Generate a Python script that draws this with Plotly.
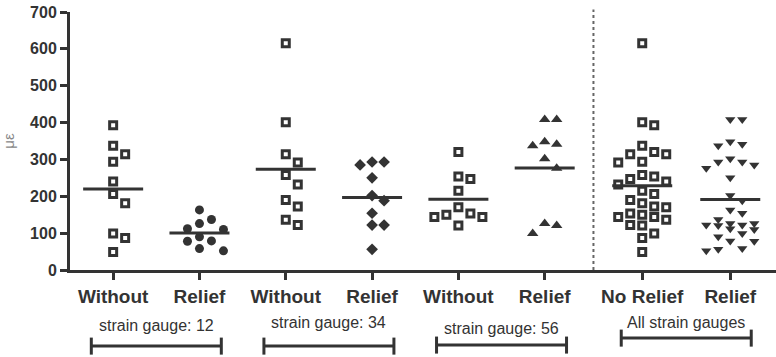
import plotly.graph_objects as go
import numpy as np

# ---------------- data ----------------
categories = ["Without", "Relief", "Without", "Relief", "Without", "Relief", "No Relief", "Relief"]
cat_pos = [1, 2, 3, 4, 5, 6, 7.13, 8.15]

sg12_without = [393, 337, 314, 294, 240, 206, 181, 99, 87, 49]
sg12_relief = [163, 137, 126, 112, 110, 90, 79, 78, 58, 52]
sg34_without = [615, 401, 314, 292, 258, 232, 190, 172, 136, 122]
sg34_relief = [293, 293, 285, 250, 202, 188, 154, 122, 122, 56]
sg56_without = [320, 254, 247, 215, 170, 153, 150, 144, 144, 121]
sg56_relief = [408, 408, 348, 341, 337, 302, 276, 126, 121, 99]
all_no_relief = sg12_without + sg34_without + sg56_without
all_relief = sg12_relief + sg34_relief + sg56_relief

group_labels = ["strain gauge: 12", "strain gauge: 34", "strain gauge: 56", "All strain gauges"]

y_ticks = [0, 100, 200, 300, 400, 500, 600, 700]

# ---------------- layout constants ----------------
W, H = 776, 357
M_L, M_R, M_T, M_B = 70, 0, 12, 87
X_RANGE = [0.5, 8.68]
Y_RANGE = [0, 700]
PX_X = (W - M_L - M_R) / (X_RANGE[1] - X_RANGE[0])
PX_Y = (H - M_T - M_B) / (Y_RANGE[1] - Y_RANGE[0])
DARK = "#333333"
FONT = "Liberation Sans, Arial, sans-serif"


def swarm(vals, step_px=12.0, dist_px=11.0, max_k=2):
    order = sorted(range(len(vals)), key=lambda i: -vals[i])
    placed = []
    offs = [0.0] * len(vals)
    cands = [0]
    for k in range(1, max_k + 1):
        cands += [k, -k]
    for i in order:
        ypx = vals[i] * PX_Y
        best, best_d = None, -1
        for c in cands:
            xpx = c * step_px
            d = min([((xpx - px) ** 2 + (ypx - py) ** 2) ** 0.5 for px, py in placed] or [1e9])
            if d >= dist_px:
                best = xpx
                break
            if d > best_d:
                best, best_d = xpx, d
        placed.append((best, ypx))
        offs[i] = best / PX_X
    return offs


series = [
    (sg12_without, "square", 7, "white", 3),
    (sg12_relief, "circle", 9, DARK, 0),
    (sg34_without, "square", 7, "white", 3),
    (sg34_relief, "diamond", 9, DARK, 0),
    (sg56_without, "square", 7, "white", 3),
    (sg56_relief, "triangle-up", 10, DARK, 0),
    (all_no_relief, "square", 7, "white", 3),
    (all_relief, "triangle-down", 9, DARK, 0),
]

fig = go.Figure()
for pos, (vals, sym, size, fill, lw) in zip(cat_pos, series):
    offs = swarm(vals)
    fig.add_trace(go.Scatter(
        x=[pos + o for o in offs], y=vals, mode="markers",
        marker=dict(symbol=sym, size=size, color=fill,
                    line=dict(color=DARK, width=lw)),
        showlegend=False, hoverinfo="y", cliponaxis=False))
    m = float(np.mean(vals))
    half = 30 / PX_X
    fig.add_trace(go.Scatter(
        x=[pos - half, pos + half], y=[m, m], mode="lines",
        line=dict(color=DARK, width=3), showlegend=False, hoverinfo="skip"))

shapes = []
# dashed separator
sep_x = (cat_pos[5] + cat_pos[6]) / 2
shapes.append(dict(type="line", xref="x", yref="paper", x0=sep_x, x1=sep_x, y0=0, y1=1.01,
                   line=dict(color="#666666", width=2, dash="dot")))

# group brackets
pairs = [(0, 1), (2, 3), (4, 5), (6, 7)]
bracket_y = [-0.295, -0.295, -0.291, -0.264]
label_y = [-0.217, -0.205, -0.225, -0.202]
annotations = []
for (a, b), lab, by, ly in zip(pairs, group_labels, bracket_y, label_y):
    c = (cat_pos[a] + cat_pos[b]) / 2
    hw = 65 / PX_X
    x0, x1 = c - hw, c + hw
    shapes.append(dict(type="line", xref="x", yref="paper", x0=x0, x1=x1, y0=by, y1=by,
                       line=dict(color=DARK, width=3)))
    for xx in (x0, x1):
        shapes.append(dict(type="line", xref="x", yref="paper", x0=xx, x1=xx,
                           y0=by - 0.033, y1=by + 0.033, line=dict(color=DARK, width=3)))
    annotations.append(dict(x=c, y=ly, xref="x", yref="paper", text=lab, showarrow=False,
                            font=dict(family=FONT, size=16, color=DARK),
                            xanchor="center", yanchor="middle"))

fig.update_layout(
    width=W, height=H,
    margin=dict(l=M_L, r=M_R, t=M_T, b=M_B, autoexpand=False),
    plot_bgcolor="white", paper_bgcolor="white",
    shapes=shapes, annotations=annotations,
    xaxis=dict(range=X_RANGE, tickvals=cat_pos, ticktext=categories, automargin=False,
               showline=True, linecolor=DARK, linewidth=3, ticks="outside",
               ticklen=7, tickwidth=3, tickcolor=DARK, showgrid=False, zeroline=False,
               ticklabeloverflow="allow",
               tickfont=dict(family=FONT, size=19, color=DARK, weight="bold")),
    yaxis=dict(range=Y_RANGE, tickvals=y_ticks, showline=True, linecolor=DARK, linewidth=3,
               automargin=False, ticklabeloverflow="allow",
               ticks="outside", ticklen=7, tickwidth=3, tickcolor=DARK, showgrid=False,
               zeroline=False, title=dict(text="με", standoff=18,
                                          font=dict(family=FONT, size=15, color="#888888")),
               tickfont=dict(family=FONT, size=16, color=DARK, weight="bold")),
)

fig.write_html("out.html", config={"displayModeBar": False},
               post_script="document.body.style.margin='0';")
